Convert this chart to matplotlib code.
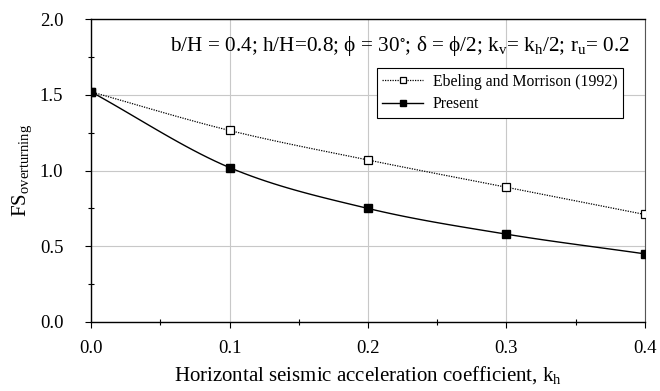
import numpy as np
import matplotlib
matplotlib.use("Agg")
import matplotlib.pyplot as plt
from matplotlib.ticker import MultipleLocator

plt.rcParams['font.family'] = ['Liberation Serif', 'DejaVu Serif']
plt.rcParams['mathtext.fontset'] = 'custom'
plt.rcParams['mathtext.rm'] = 'Liberation Serif'
plt.rcParams['mathtext.it'] = 'Liberation Serif'
plt.rcParams['mathtext.default'] = 'regular'

kh = [0.0, 0.1, 0.2, 0.3, 0.4]
fs_ebeling = [1.52, 1.265, 1.07, 0.89, 0.71]
fs_present = [1.52, 1.02, 0.75, 0.58, 0.45]
label_ebeling = "Ebeling and Morrison (1992)"
label_present = "Present"


def smooth(x, y, n=20):
    x = np.asarray(x, float); y = np.asarray(y, float)
    px = np.concatenate([[2*x[0]-x[1]], x, [2*x[-1]-x[-2]]])
    py = np.concatenate([[2*y[0]-y[1]], y, [2*y[-1]-y[-2]]])
    xs, ys = [], []
    t = np.linspace(0, 1, n)
    for i in range(1, len(px)-2):
        for arr, out in ((px, xs), (py, ys)):
            p0, p1, p2, p3 = arr[i-1], arr[i], arr[i+1], arr[i+2]
            out.extend(0.5*((2*p1) + (-p0+p2)*t + (2*p0-5*p1+4*p2-p3)*t**2 + (-p0+3*p1-3*p2+p3)*t**3))
    return np.array(xs), np.array(ys)


fig = plt.figure(figsize=(6.6, 3.91), dpi=100)
ax = fig.add_axes([0.138, 0.1765, 0.839, 0.7745])

sx, sy = smooth(kh, fs_ebeling)
ax.plot(sx, sy, color='black', lw=0.9, ls=(0, (1, 1)), zorder=3)
ax.plot(kh, fs_ebeling, ls='none', marker='s', ms=5.5, mfc='white', mec='black', mew=0.9, zorder=4)
sx, sy = smooth(kh, fs_present)
ax.plot(sx, sy, color='black', lw=1.0, zorder=3)
ax.plot(kh, fs_present, ls='none', marker='s', ms=5.5, mfc='black', mec='black', zorder=4)

# legend handles
h1, = ax.plot([], [], color='black', lw=0.9, ls=(0, (1, 1)), marker='s', ms=5, mfc='white', mec='black', mew=0.9)
h2, = ax.plot([], [], color='black', lw=1.0, marker='s', ms=5, mfc='black', mec='black')
leg = ax.legend([h1, h2], [label_ebeling, label_present], loc='upper left',
                bbox_to_anchor=(0.516, 0.838), fontsize=11.3, frameon=True, fancybox=False,
                edgecolor='black', framealpha=1, borderpad=0.35, handlelength=2.6,
                handletextpad=0.6, labelspacing=0.42, borderaxespad=0)
leg.get_frame().set_linewidth(0.8)

ax.set_xlim(0, 0.4)
ax.set_ylim(0, 2.0)
ax.xaxis.set_major_locator(MultipleLocator(0.1))
ax.xaxis.set_minor_locator(MultipleLocator(0.05))
ax.yaxis.set_major_locator(MultipleLocator(0.5))
ax.yaxis.set_minor_locator(MultipleLocator(0.25))
ax.set_xticklabels([f"{v:.1f}" for v in ax.get_xticks()])
ax.set_yticklabels([f"{v:.1f}" for v in ax.get_yticks()])
ax.grid(True, which='major', color='#c8c8c8', lw=0.8)
ax.set_axisbelow(True)
ax.tick_params(which='major', direction='out', length=4, width=0.8, labelsize=13.5)
ax.tick_params(axis='x', which='major', pad=9)
ax.tick_params(axis='y', which='major', pad=16)
ax.tick_params(which='minor', direction='inout', length=4, width=0.8)
for s in ['left', 'bottom', 'top']:
    ax.spines[s].set_linewidth(1.0)
ax.spines['right'].set_color('#555555')

ax.set_xlabel(r"Horizontal seismic acceleration coefficient, k$_\mathrm{h}$", fontsize=15, labelpad=5)
ax.set_ylabel(r"FS$_\mathrm{overturning}$", fontsize=15, labelpad=4)

ax.text(0.973, 0.91,
        r"b/H = 0.4; h/H=0.8; $\phi$ = 30$^{\circ}$; $\delta$ = $\phi$/2; k$_\mathrm{v}$= k$_\mathrm{h}$/2; r$_\mathrm{u}$= 0.2",
        transform=ax.transAxes, ha='right', va='center', fontsize=15.3)

fig.savefig("out.png", dpi=100)
